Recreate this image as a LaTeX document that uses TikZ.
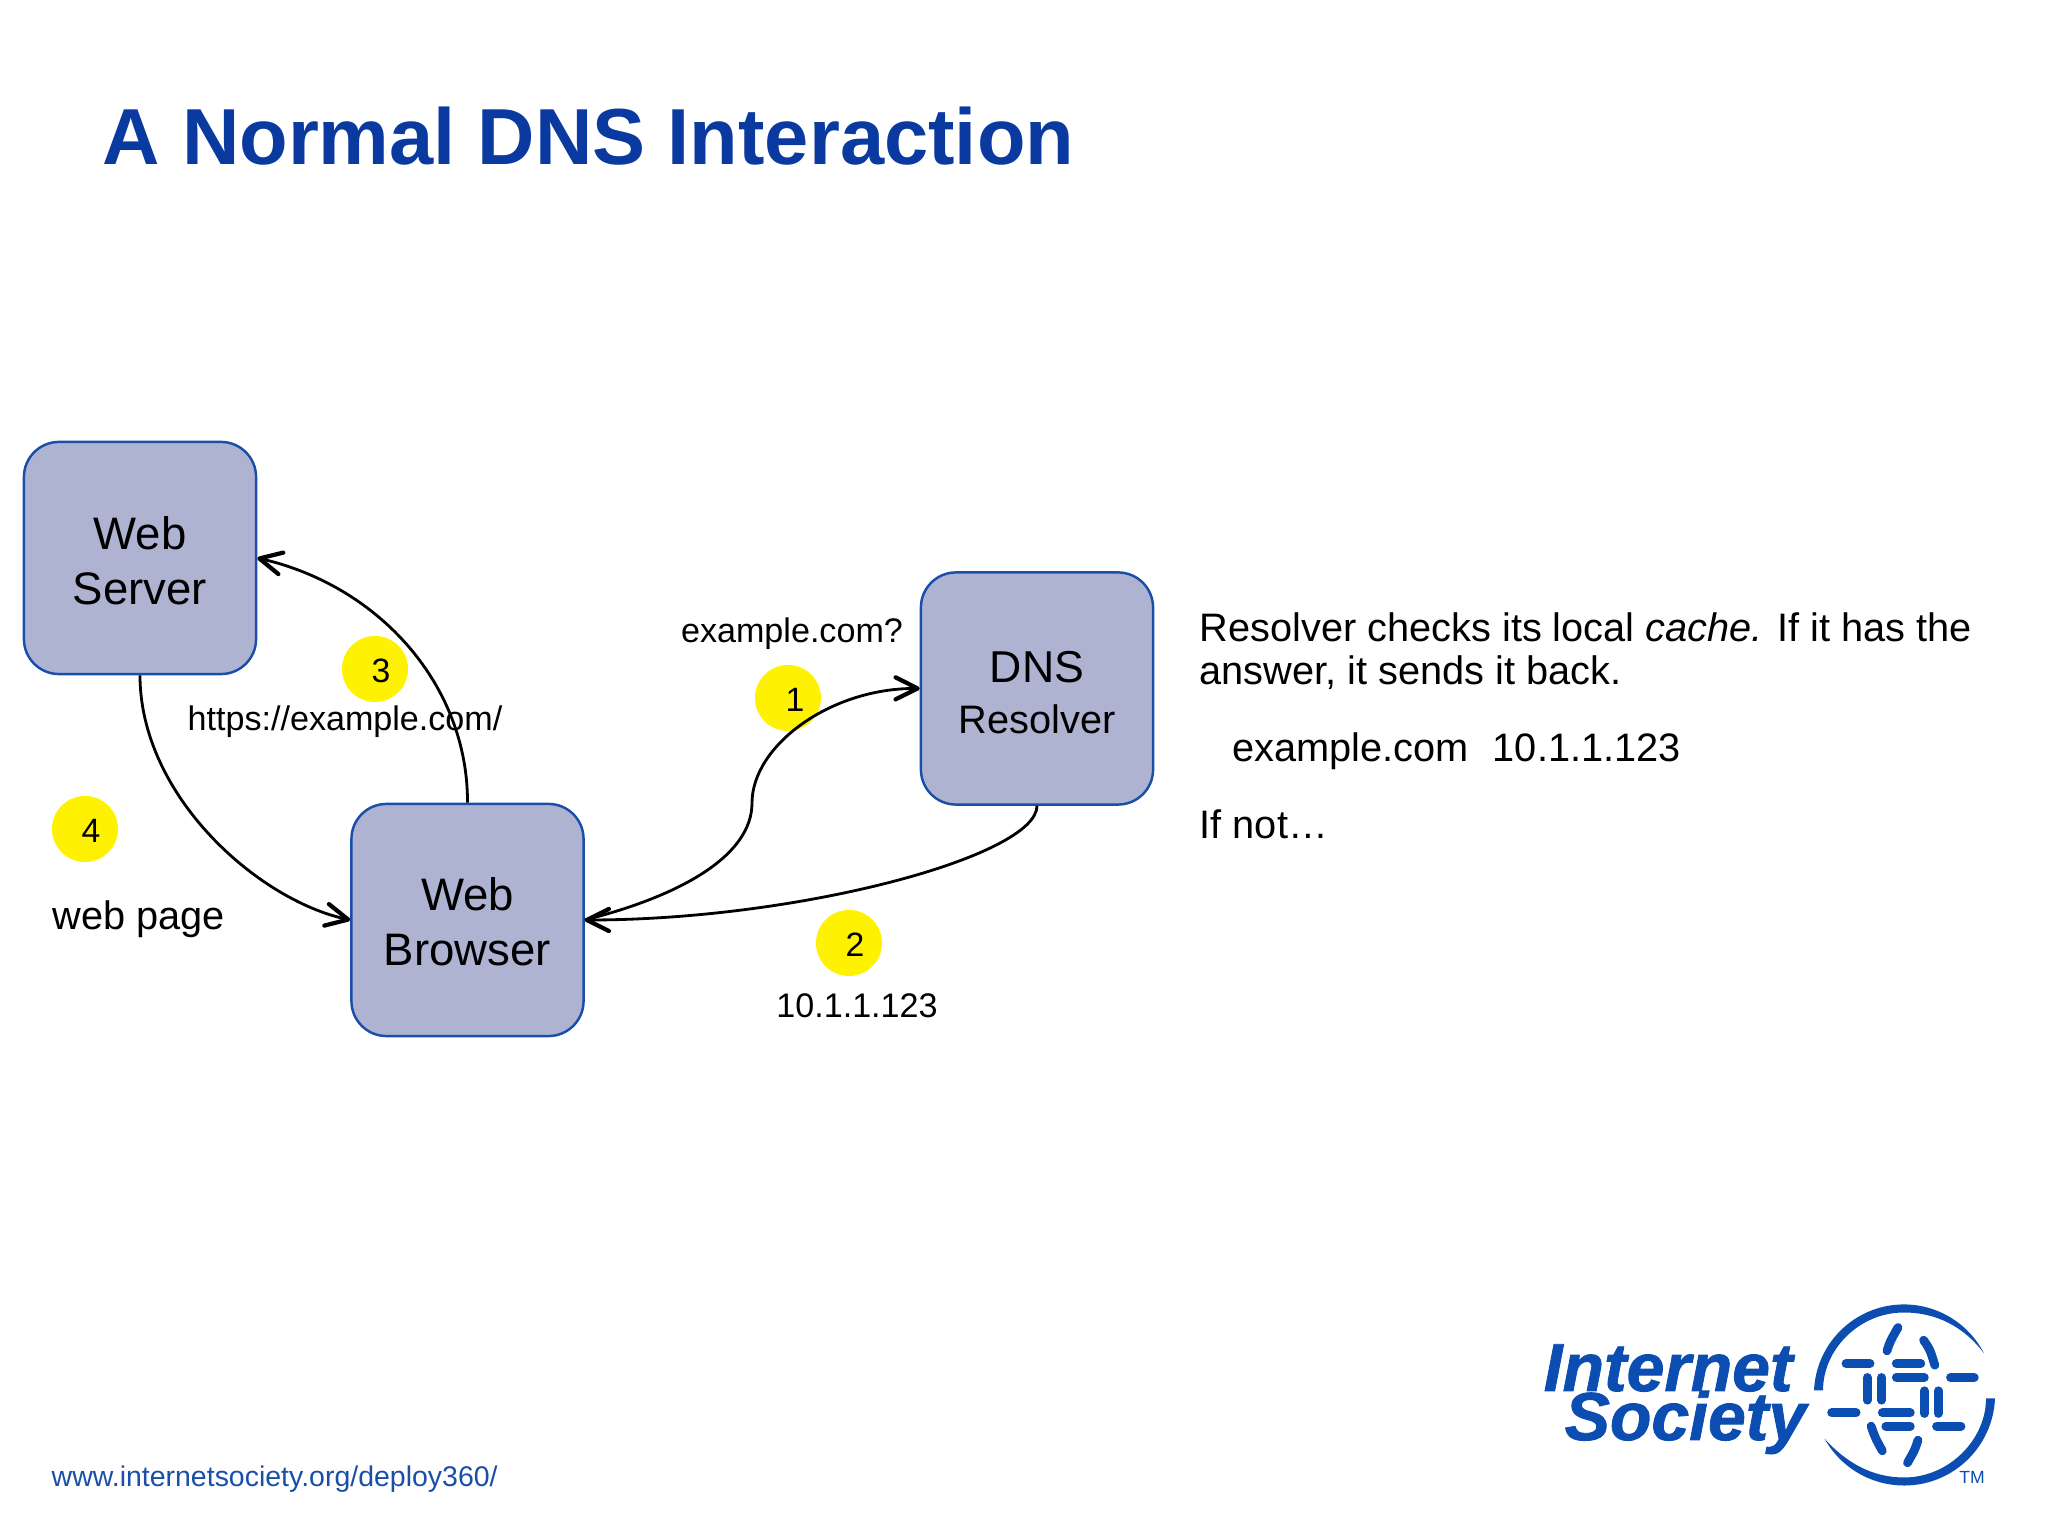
\documentclass[tikz,border=0pt]{standalone}
\usepackage{fontspec}
\setmainfont{Liberation Sans}
\newfontfamily\logofont[BoldItalicFeatures={FakeBold=1.2}]{Liberation Sans}
\usetikzlibrary{arrows.meta}
\definecolor{titleblue}{HTML}{0A3AA0}
\definecolor{logoblue}{HTML}{0B4DB0}
\definecolor{boxfill}{HTML}{AEB3D2}
\definecolor{boxline}{HTML}{1A4FA8}
\tikzset{
  box/.style={draw=boxline, fill=boxfill, line width=0.7pt, rounded corners=0.35cm, minimum size=2.32cm, inner sep=0pt, align=center, font=\fontsize{12.95}{15.6}\selectfont},
  badge/.style={circle, fill=yellow, minimum size=0.66cm, inner sep=0pt},
  digit/.style={inner sep=0pt, font=\fontsize{9.6}{11}\selectfont},
  small/.style={inner sep=0pt, anchor=base, font=\fontsize{9.7}{11}\selectfont},
  big/.style={inner sep=0pt, anchor=base west, align=left, font=\fontsize{11.3}{12.5}\selectfont},
  link/.style={line width=0.8pt, -{Straight Barb[length=2.2mm,width=2.2mm,line width=1.2pt,round]}},
  bar/.style={line width=2.5pt, line cap=round, logoblue},
  logotext/.style={inner sep=0pt, anchor=base west, text=logoblue, font=\fontsize{19.3}{20}\logofont\bfseries\itshape},
}
\begin{document}
\begin{tikzpicture}[x=0.01cm,y=0.01cm]
\useasboundingbox (0,0) rectangle (2048,1536);
\node[inner sep=0pt, anchor=base west, text=titleblue, font=\fontsize{22.6}{24}\selectfont\bfseries] (title) at (102,1371) {A Normal DNS Interaction};
\node[box] (server) at (140,978) {\rule{0pt}{10.9pt}Web\\Server};
\node[box] (browser) at (467.5,616) {\rule{0pt}{10.5pt}Web\\Browser};
\node[box] (resolver) at (1037,847.5) {\rule{0pt}{11.3pt}\fontsize{12.7}{14}\selectfont DNS\\[-1.2pt]\fontsize{11.3}{14}\selectfont Resolver};
\node[badge] (badge1) at (788,838) {};
\node[digit] (num1) at (795,836) {1};
\node[badge] (badge2) at (849,593) {};
\node[digit] (num2) at (855,591) {2};
\node[badge] (badge3) at (375,867) {};
\node[digit] (num3) at (381,865) {3};
\node[badge] (badge4) at (85,707) {};
\node[digit] (num4) at (91,705) {4};
\node[small] (query) at (792,893) {example.com?};
\node[small] (answer) at (857,518) {10.1.1.123};
\node[small] (url) at (345,805) {https://example.com/};
\node[big] (page) at (52,606) {web page};
\draw[link] (browser.north) .. controls (468,850) and (380,950) .. (server.east);
\draw[link] (server.south) .. controls (140,740) and (258,636) .. (browser.west);
\draw[link] (resolver.south) .. controls (1037,680) and (800,616) .. (browser.east);
\draw[link] (browser.east) .. controls (680,640) and (752,680) .. (752,733) .. controls (752,790) and (830,848) .. (resolver.west);
\node[big] (note) at (1199,851) {Resolver checks its local {\itshape cache.} If it has the\\answer, it sends it back.};
\node[big] (record) at (1232,774) {example.com\hspace{0.6em}10.1.1.123};
\node[big] (ifnot) at (1199,697) {If not…};
\node[inner sep=0pt, anchor=base west, text=boxline, font=\fontsize{8.1}{9}\selectfont] (site) at (51,49) {www.internetsociety.org/deploy360/};
\node[logotext] (word1) at (1543,145) {Internet};
\node[logotext] (word2) at (1564,96) {Society};
\node[inner sep=0pt, text=logoblue, font=\fontsize{5}{5}\selectfont] (tm) at (1972,59) {TM};
\begin{scope}[shift={(1904,141.5)}]
\fill[logoblue] (-90,4) arc[start angle=177.5,end angle=27,radius=90] .. controls (60,68) and (32,82) .. (0,82) .. controls (-45,82) and (-81,45) .. (-81,4) -- cycle;
\fill[logoblue] (91,-4) arc[start angle=-2.5,end angle=-151,radius=91] .. controls (-58,-68) and (-32,-83) .. (0,-83) .. controls (45,-83) and (82,-45) .. (82,-4) -- cycle;
\draw[bar] (-58,31) -- (-34,31);
\draw[bar] (-7.7,31) -- (16.8,31);
\draw[bar] (-7.7,17) -- (20.3,17);
\draw[bar] (46.5,17) -- (70.3,17);
\draw[bar] (-72.4,-18.3) -- (-47.9,-18.3);
\draw[bar] (-21.7,-18.3) -- (6.3,-18.3);
\draw[bar] (-18.2,-31.7) -- (6.3,-31.7);
\draw[bar] (32.5,-31.7) -- (57,-31.7);
\draw[bar] (-36.7,17) -- (-36.7,-5.7);
\draw[bar] (-22.4,17) -- (-22.4,-5.7);
\draw[bar] (20.3,3.7) -- (20.3,-19);
\draw[bar] (34.3,3.7) -- (34.3,-19);
\draw[bar] (-17,43.7) .. controls (-14,53) .. (-6,67);
\draw[bar] (19.6,54.3) .. controls (26,45) .. (30.8,29.3);
\draw[bar] (-32.9,-31.7) .. controls (-29,-43) .. (-21.7,-56.3);
\draw[bar] (14,-45.7) .. controls (11,-55) .. (3.5,-68.3);
\end{scope}
\end{tikzpicture}
\end{document}
